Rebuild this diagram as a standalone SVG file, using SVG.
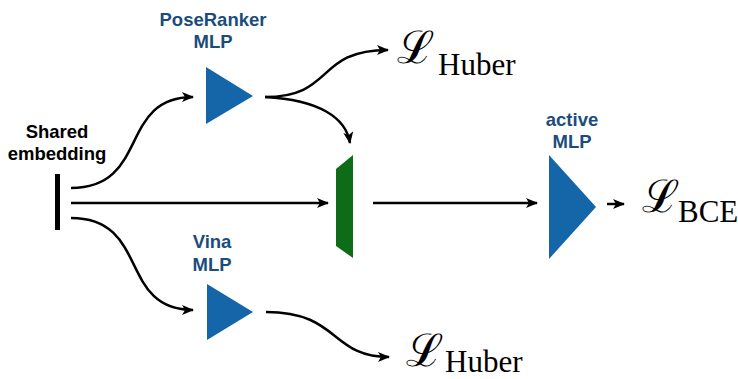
<svg xmlns="http://www.w3.org/2000/svg" width="738" height="379" viewBox="0 0 738 379">
<defs>
<marker id="ah" viewBox="0 0 12 10" refX="11" refY="5" markerWidth="12" markerHeight="10" markerUnits="userSpaceOnUse" orient="auto">
<path d="M0,0 L12,5 L0,10 L3,5 z" fill="#000"/>
</marker>
<style>
.lbl{font-family:"Liberation Sans",Arial,sans-serif;font-weight:bold;font-size:18.5px;text-anchor:middle}
.blue{fill:#1b4d7c}
.tri{fill:#1565a9}
.conn{fill:none;stroke:#000;stroke-width:2.5;marker-end:url(#ah)}
.scr{font-family:"DejaVu Serif",serif;font-size:45px}
.sub{font-family:"Liberation Serif","Times New Roman",serif;font-size:31px}
</style>
</defs>
<rect width="738" height="379" fill="#fff"/>
<g id="connectors">
<path class="conn" d="M71,188 C150,188 118,97 193,97"/>
<path class="conn" d="M71,203 L328,203"/>
<path class="conn" d="M71,218 C150,218 118,310 193,310"/>
<path class="conn" d="M265,97 C335,97 315,50 388,50"/>
<path class="conn" d="M265,97 C320,100 346,118 350,143"/>
<path class="conn" d="M266,312 C340,312 330,357 389,357"/>
<path class="conn" d="M373,203 L537,203"/>
<path class="conn" d="M607,204 L624,204"/>
</g>
<g id="shared">
<rect x="55" y="174" width="5" height="56" fill="#000"/>
<text class="lbl" x="57" y="138">Shared</text>
<text class="lbl" x="57" y="160">embedding</text>
</g>
<g id="poseranker">
<polygon class="tri" points="206,67 253,96 206,124"/>
<text class="lbl blue" x="213" y="26">PoseRanker</text>
<text class="lbl blue" x="213" y="48">MLP</text>
</g>
<g id="vina">
<polygon class="tri" points="207,284 253,312 207,340"/>
<text class="lbl blue" x="212" y="248">Vina</text>
<text class="lbl blue" x="212" y="271">MLP</text>
</g>
<g id="concat">
<polygon points="336,169 353,155 353,258 336,246" fill="#0e6b17"/>
</g>
<g id="active">
<polygon class="tri" points="549,155 596,207 549,259"/>
<text class="lbl blue" x="572" y="126">active</text>
<text class="lbl blue" x="572" y="148">MLP</text>
</g>
<g id="loss-huber-top">
<text class="scr" x="397" y="63">ℒ</text>
<text class="sub" x="438" y="75">Huber</text>
</g>
<g id="loss-huber-bottom">
<text class="scr" x="406" y="366">ℒ</text>
<text class="sub" x="445" y="372">Huber</text>
</g>
<g id="loss-bce">
<text class="scr" x="642" y="212">ℒ</text>
<text class="sub" x="678" y="222">BCE</text>
</g>
</svg>
